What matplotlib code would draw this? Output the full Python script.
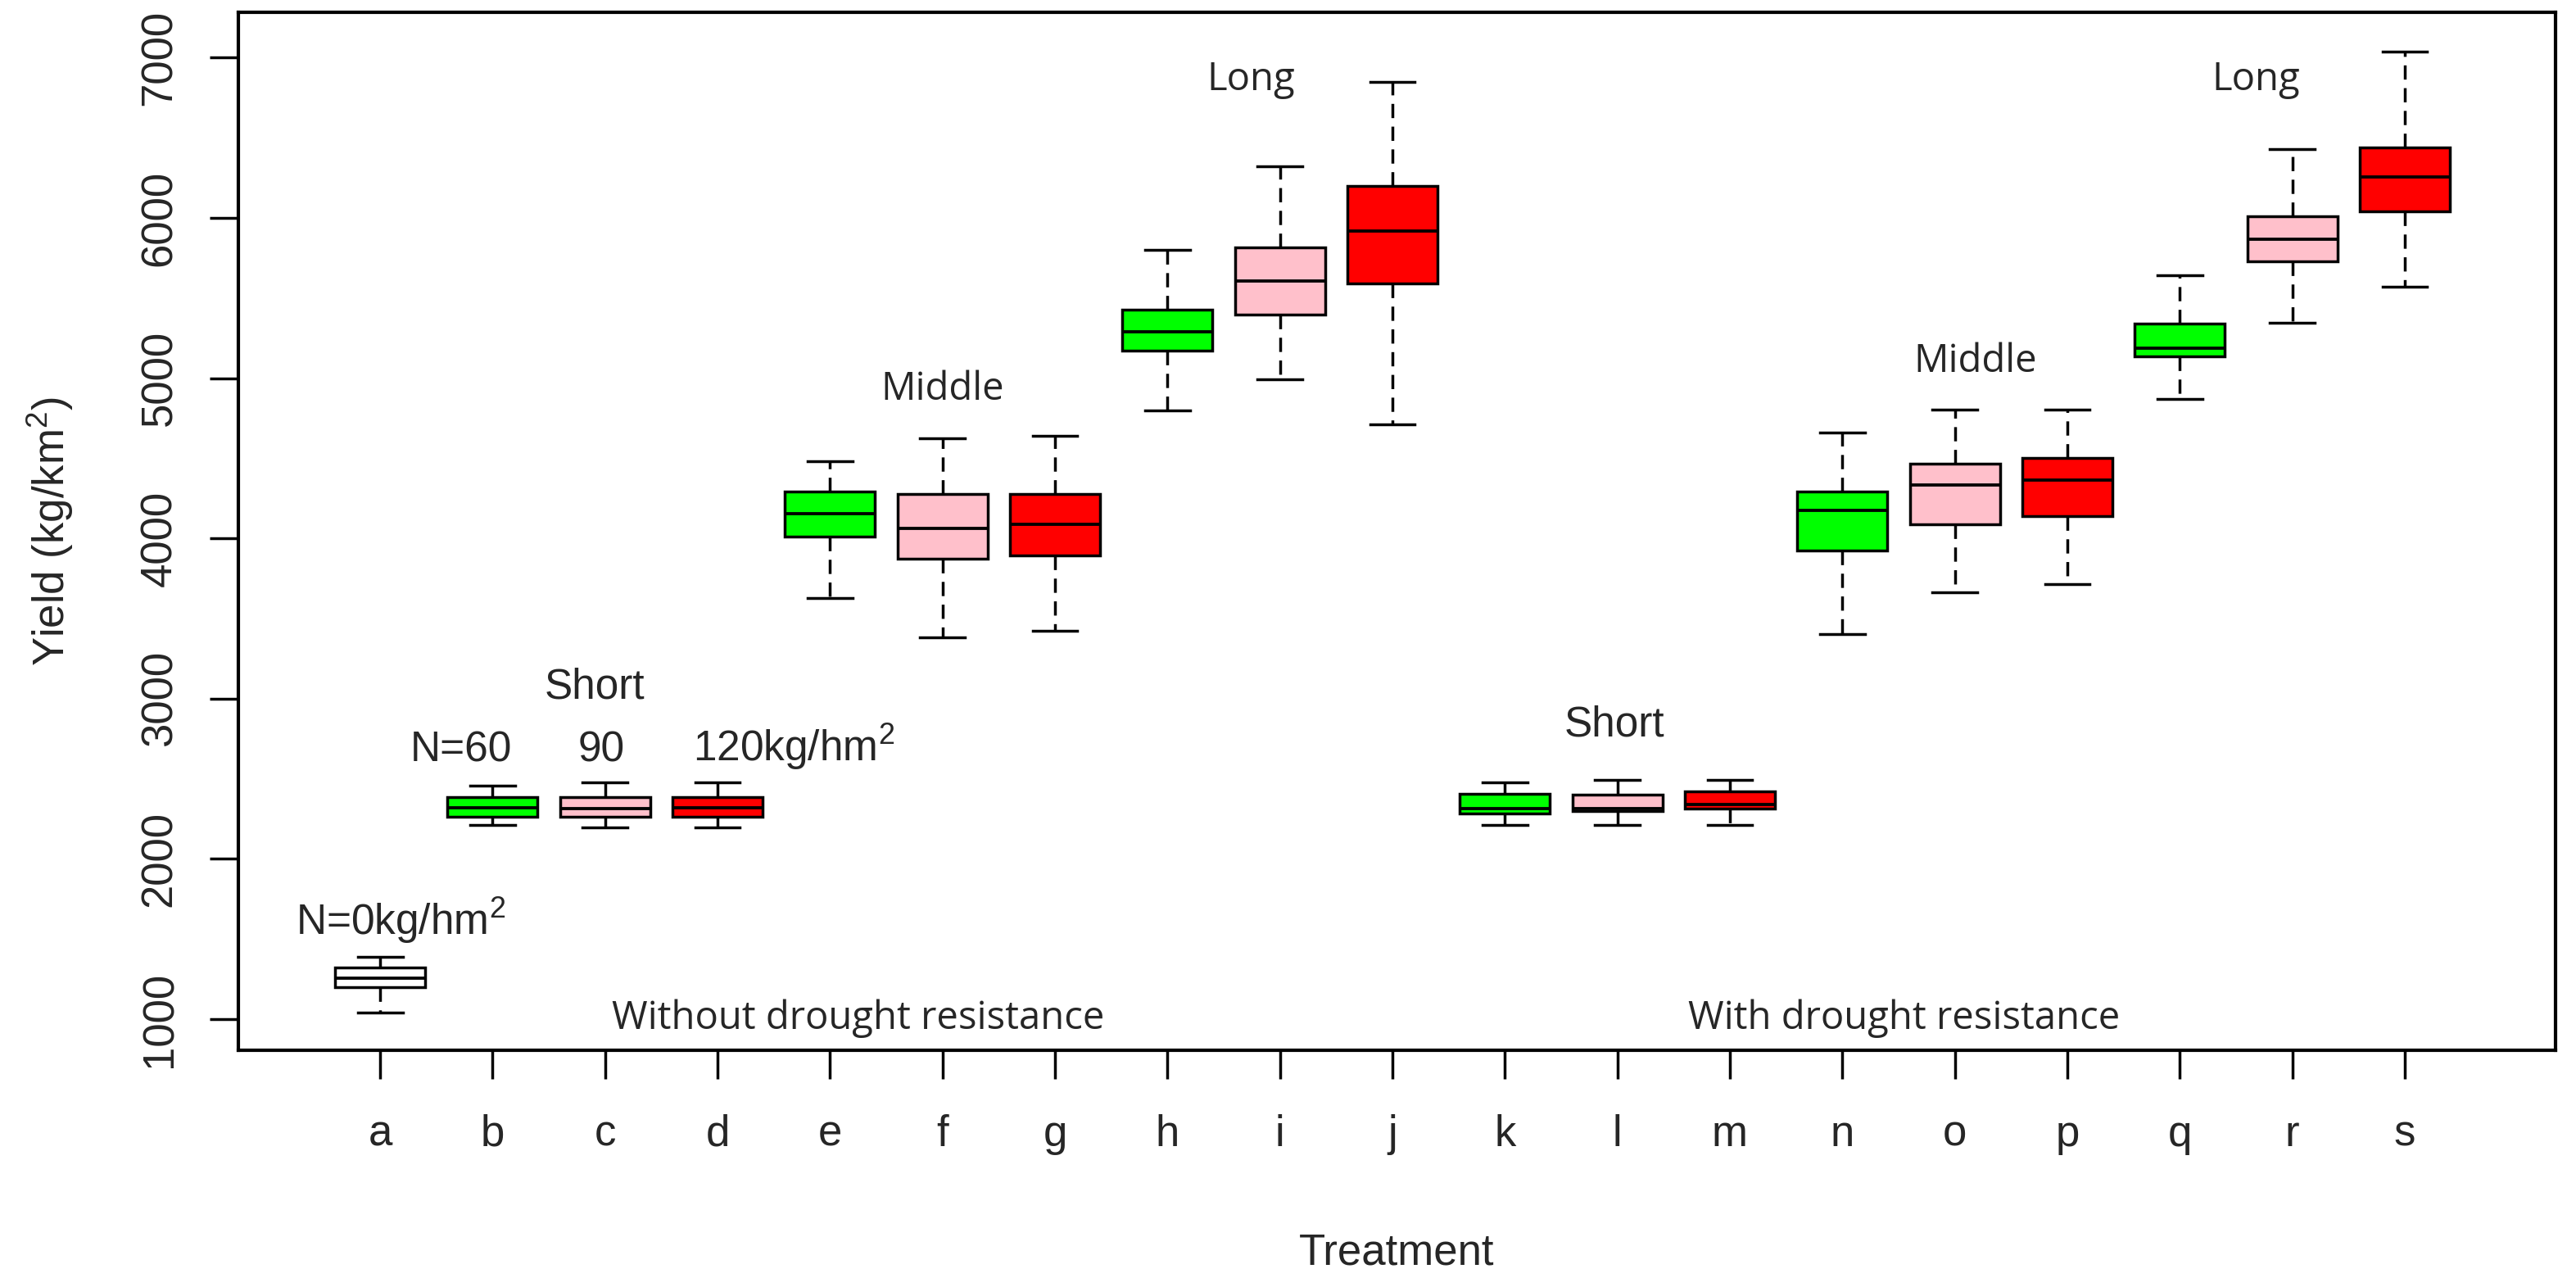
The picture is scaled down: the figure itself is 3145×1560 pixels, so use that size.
import matplotlib
matplotlib.use("Agg")
import matplotlib.pyplot as plt

# ---------------- data ----------------
treatments = list("abcdefghijklmnopqrs")
whisker_low = [1042, 2210, 2196, 2196, 3628, 3384, 3421, 4801, 4994, 4713,
               2210, 2210, 2210, 3403, 3665, 3716, 4869, 5344, 5572]
q1 = [1199, 2265, 2265, 2265, 4011, 3875, 3892, 5170, 5395, 5590,
      2282, 2299, 2315, 3926, 4088, 4139, 5134, 5730, 6043]
median = [1254, 2321, 2315, 2321, 4153, 4062, 4088, 5290, 5604, 5918,
          2315, 2312, 2338, 4173, 4332, 4366, 5187, 5868, 6255]
q3 = [1322, 2387, 2387, 2387, 4292, 4275, 4275, 5428, 5816, 6199,
      2404, 2401, 2423, 4292, 4468, 4501, 5341, 6008, 6442]
whisker_high = [1390, 2455, 2477, 2477, 4483, 4625, 4642, 5798, 6324, 6847,
                2477, 2491, 2491, 4662, 4804, 4804, 5640, 6427, 7039]
box_colors = ["white"] + ["#00FF00", "#FFC0CB", "#FF0000"] * 6

yticks = [1000, 2000, 3000, 4000, 5000, 6000, 7000]

# annotations: (text, x, y, family)
annotations = [
    ("N=0kg/hm$^{2}$", 1.18, 1527, "arial"),
    ("N=60", 1.72, 2610, "arial"),
    ("90", 2.97, 2610, "arial"),
    ("120kg/hm$^{2}$", 4.68, 2610, "arial"),
    ("Short", 2.91, 3004, "arial"),
    ("Middle", 6.0, 4865, "yahei"),
    ("Long", 8.74, 6797, "yahei"),
    ("Short", 11.97, 2769, "arial"),
    ("Middle", 15.18, 5039, "yahei"),
    ("Long", 17.68, 6797, "yahei"),
    ("Without drought resistance", 5.25, 940, "yahei"),
    ("With drought resistance", 14.55, 940, "yahei"),
]

# ---------------- style ----------------
plt.rcParams["font.family"] = ["Liberation Sans", "DejaVu Sans"]
plt.rcParams["mathtext.default"] = "regular"

W, H = 3145, 1560
fig = plt.figure(figsize=(W / 100, H / 100), dpi=100)
left, right, bottom, top = 291 / W, 3120 / W, 1 - 1282 / H, 1 - 15 / H
ax = fig.add_axes([left, bottom, right - left, top - bottom])

positions = list(range(1, len(treatments) + 1))
stats = []
for i, t in enumerate(treatments):
    stats.append(dict(label=t, med=median[i], q1=q1[i], q3=q3[i],
                      whislo=whisker_low[i], whishi=whisker_high[i], fliers=[]))

lw = 2.5
bp = ax.bxp(stats, positions=positions, widths=0.8, patch_artist=True,
            showfliers=False, capwidths=0.4,
            boxprops=dict(linewidth=lw, edgecolor="black"),
            medianprops=dict(linewidth=lw * 1.1, color="black"),
            whiskerprops=dict(linewidth=lw, color="black", linestyle=(0, (5, 3))),
            capprops=dict(linewidth=lw, color="black"))
for patch, c in zip(bp["boxes"], box_colors):
    patch.set_facecolor(c)

ax.set_xlim(-0.26, 20.34)
ax.set_ylim(806, 7283)

text_color = "#262626"
ax.set_xticks(positions)
ax.set_xticklabels(treatments)
ax.set_yticks(yticks)
ax.set_yticklabels([str(v) for v in yticks], rotation=90, va="center")
ax.tick_params(axis="both", length=25, width=lw, labelsize=38,
               colors="black", labelcolor=text_color)
ax.tick_params(axis="x", pad=31)
ax.tick_params(axis="y", pad=26)
for s in ax.spines.values():
    s.set_linewidth(lw * 1.2)

ax.set_xlabel("Treatment", fontsize=38, color=text_color, labelpad=68)
ax.set_ylabel("Yield (kg/km$^{2}$)", fontsize=38, color=text_color, labelpad=56)

fam = {"arial": ["Liberation Sans", "DejaVu Sans"],
       "yahei": ["Open Sans", "DejaVu Sans"]}
size = {"arial": 37, "yahei": 34}
for txt, x, y, f in annotations:
    ax.text(x, y, txt, ha="center", va="baseline", family=fam[f],
            fontsize=size[f], color=text_color)

fig.savefig("out.png", dpi=100, facecolor="white")
